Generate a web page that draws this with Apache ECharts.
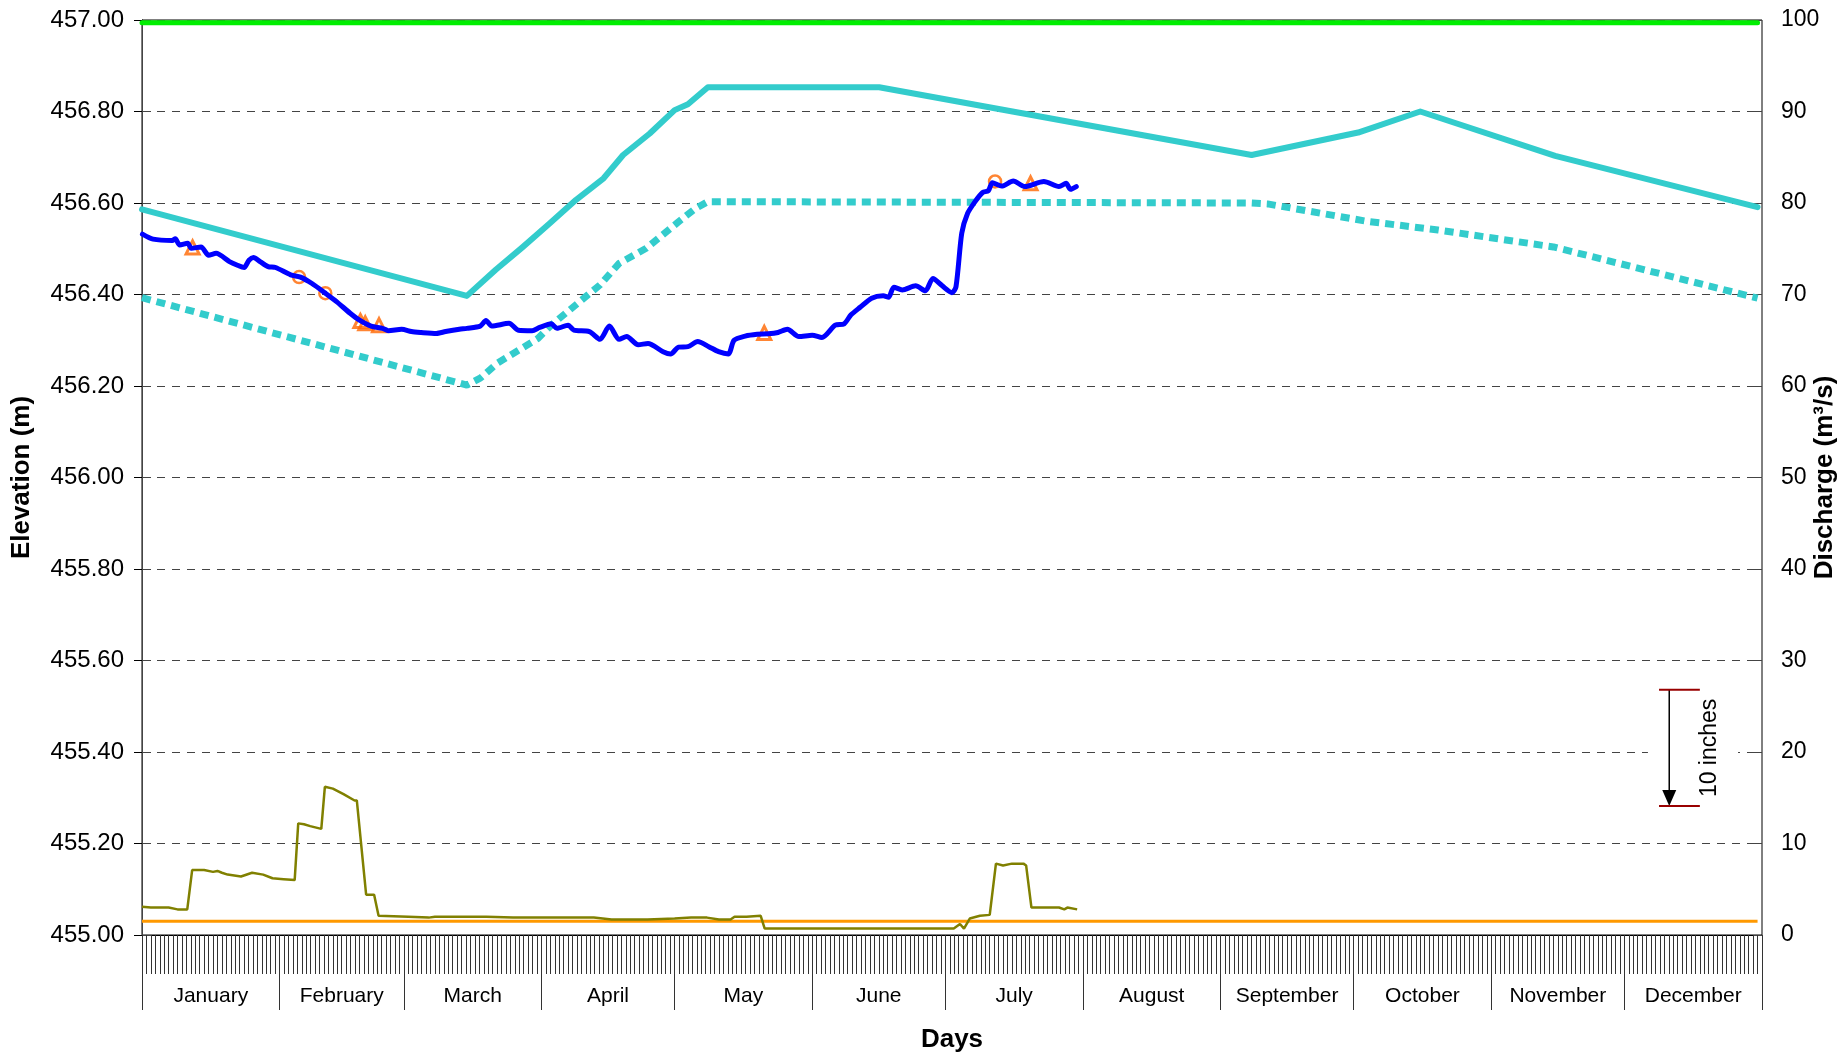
<!DOCTYPE html>
<html>
<head>
<meta charset="utf-8">
<script src="https://cdn.jsdelivr.net/npm/echarts@6/dist/echarts.min.js"></script>
<style>
html, body { margin: 0; padding: 0; background: #fff; }
#chart { width: 1844px; height: 1053px; }
</style>
</head>
<body>
<div id="chart"></div>
<script>
// months on the x axis (day of year, 0 = 1 January)
var monthNames = ['January', 'February', 'March', 'April', 'May', 'June', 'July',
    'August', 'September', 'October', 'November', 'December'];
var monthStarts = [0, 31, 59, 90, 120, 151, 181, 212, 243, 273, 304, 334, 365];

// observed reservoir elevation (m)
var elevDay = [0.1, 2.5, 6.8, 7.5, 8.5, 10.3, 11.1, 13.3, 15.0, 16.7, 19.7, 21.5, 23.0, 24.1, 25.1, 26.6,
    28.4, 30.1, 33.5, 35.7, 38.3, 41.3, 43.9, 46.9, 49.0, 51.6, 54.2, 55.5, 58.5, 60.7, 62.9, 66.3,
    68.4, 71.5, 73.2, 76.2, 77.5, 78.8, 82.7, 84.8, 87.9, 89.6, 92.2, 93.5, 96.0, 97.3, 100.8, 103.2,
    105.3, 107.5, 109.2, 111.8, 114.0, 117.4, 119.1, 120.9, 123.0, 125.2, 127.7, 129.9, 132.1, 133.4,
    135.9, 138.6, 141.1, 143.3, 145.4, 148.0, 151.0, 153.2, 156.2, 158.2, 159.7, 161.8, 164.4, 167.0,
    168.2, 169.4, 171.3, 174.3, 176.5, 178.2, 180.3, 182.5, 183.4, 184.7, 186.0, 187.7, 189.4, 190.7,
    191.6, 193.7, 196.3, 198.9, 203.2, 206.6, 208.2, 209.2, 210.5];
var elevVal = [456.532, 456.521, 456.518, 456.522, 456.508, 456.512, 456.501, 456.504, 456.486, 456.490,
    456.472, 456.464, 456.459, 456.475, 456.481, 456.472, 456.461, 456.459, 456.443, 456.438, 456.424,
    456.403, 456.384, 456.359, 456.344, 456.331, 456.326, 456.321, 456.324, 456.319, 456.317, 456.315,
    456.319, 456.324, 456.326, 456.331, 456.343, 456.331, 456.337, 456.322, 456.321, 456.328, 456.336,
    456.326, 456.333, 456.322, 456.319, 456.302, 456.331, 456.302, 456.308, 456.290, 456.293, 456.275,
    456.270, 456.285, 456.286, 456.297, 456.286, 456.275, 456.270, 456.300, 456.309, 456.313, 456.314,
    456.317, 456.324, 456.308, 456.311, 456.306, 456.333, 456.336, 456.355, 456.372, 456.392, 456.397,
    456.394, 456.416, 456.410, 456.419, 456.408, 456.435, 456.419, 456.404, 456.417, 456.534, 456.577,
    456.603, 456.623, 456.627, 456.644, 456.637, 456.648, 456.636, 456.647, 456.636, 456.643, 456.630,
    456.636];

// survey points on the elevation line
var circleDay = [35.4, 41.3, 192.2];
var circleVal = [456.438, 456.403, 456.647];
var triDay = [11.4, 49.2, 50.3, 53.4, 140.2, 200.2];
var triVal = [456.503, 456.342, 456.337, 456.333, 456.316, 456.643];

// rule curves (m)
var upperDay = [0, 73.2, 79.7, 85.7, 91.7, 97.8, 104, 108.4, 114.4, 120, 123, 127.5, 166.1, 250, 274, 288, 318.4, 364];
var upperVal = [456.586, 456.397, 456.454, 456.503, 456.554, 456.607, 456.654, 456.705, 456.752, 456.803,
    456.816, 456.853, 456.853, 456.705, 456.754, 456.800, 456.703, 456.591];
var lowerDay = [0, 73.2, 76.2, 80.1, 89.2, 92.2, 103.2, 107.5, 113.6, 120.9, 124.7, 127.5, 250, 253.6, 276, 292, 318, 364];
var lowerVal = [456.393, 456.202, 456.217, 456.250, 456.304, 456.333, 456.421, 456.468, 456.501, 456.559,
    456.588, 456.603, 456.600, 456.598, 456.560, 456.541, 456.504, 456.392];
var topLevel = 456.994;

// discharge (m3/s)
var flowDay = [0, 2, 6, 8, 10.2, 11.3, 14, 16, 17, 18, 19.3, 22.3, 24.8, 27.3, 29.4, 31.9, 34.4, 35.2, 36.5,
    37.9, 40.4, 41.2, 43, 45.4, 47.9, 48.4, 50.5, 52.3, 53.3, 60, 64.6, 66, 72, 77.6, 83.6, 90, 101.8,
    105.8, 113.9, 120, 123.7, 127.3, 130, 132.6, 133.5, 136.2, 139.4, 140.3, 182.9, 184.3, 185.2, 186.5,
    188.8, 191, 191.4, 192.4, 194, 196, 198.6, 199.2, 200.4, 206.6, 207.8, 208.5, 210.7];
var flowVal = [3.1, 3.0, 3.0, 2.8, 2.8, 7.1, 7.1, 6.9, 7.0, 6.8, 6.6, 6.4, 6.8, 6.6, 6.2, 6.1, 6.0, 12.2, 12.1,
    11.9, 11.6, 16.2, 16.0, 15.4, 14.7, 14.7, 4.4, 4.4, 2.1, 2.0, 1.9, 2.0, 2.0, 2.0, 1.9, 1.9, 1.9,
    1.7, 1.7, 1.8, 1.9, 1.9, 1.7, 1.7, 2.0, 2.0, 2.1, 0.7, 0.7, 1.2, 0.7, 1.8,
    2.1, 2.2, 2.4, 7.8, 7.6, 7.8, 7.8, 7.6, 3.0, 3.0, 2.8, 3.0, 2.8];
var minFlow = 1.5;

// "10 inches" bracket
var bracketDay = 344.1;
var bracketTop = 455.536;
var bracketBottom = 455.282;

function pairs(xs, ys) {
    return xs.map(function(x, i) { return [x, ys[i]]; });
}

var monthMids = [];
for (var i = 0; i < 12; i++) {
    monthMids.push((monthStarts[i] + monthStarts[i + 1]) / 2);
}

var font = 'Liberation Sans, Arial, sans-serif';
var chart = echarts.init(document.getElementById('chart'));

var option = {
    animation: false,
    backgroundColor: '#fff',
    textStyle: { fontFamily: font },
    grid: {
        left: 142, right: 82, top: 20, bottom: 118,
        outerBoundsMode: 'none', containLabel: false,
        show: true, borderColor: '#000', borderWidth: 1
    },
    xAxis: [{
        type: 'value', min: 0, max: 365, interval: 1,
        axisLine: { lineStyle: { color: '#000', width: 1 } },
        axisTick: { length: 39, lineStyle: { color: '#333', width: 1 } },
        axisLabel: { show: false },
        splitLine: { show: false }
    }, {
        type: 'value', min: 0, max: 365, position: 'bottom',
        axisLine: { show: false },
        axisTick: { customValues: monthStarts, length: 75, lineStyle: { color: '#333', width: 1 } },
        axisLabel: {
            customValues: monthMids, margin: 51,
            fontSize: 21, color: '#000', fontFamily: font,
            formatter: function(v) { return monthNames[monthMids.indexOf(v)] || ''; }
        },
        splitLine: { show: false },
        name: 'Days', nameLocation: 'middle', nameGap: 92, nameMoveOverlap: false,
        nameTextStyle: { fontSize: 26, fontWeight: 'bold', color: '#000', fontFamily: font }
    }],
    yAxis: [{
        type: 'value', min: 455, max: 457, interval: 0.2,
        axisLine: { show: true, lineStyle: { color: '#000' } },
        axisTick: { show: true, length: 8, lineStyle: { color: '#000' } },
        axisLabel: {
            fontSize: 24, color: '#000', margin: 18, fontFamily: font,
            formatter: function(v) { return v.toFixed(2); }
        },
        splitLine: { show: true, lineStyle: { color: '#444', width: 1, type: [8, 7] } },
        name: 'Elevation (m)', nameLocation: 'middle', nameGap: 107, nameMoveOverlap: false,
        nameTextStyle: { fontSize: 26, fontWeight: 'bold', color: '#000', fontFamily: font }
    }, {
        type: 'value', min: 0, max: 100, interval: 10, position: 'right',
        axisLine: { show: true, lineStyle: { color: '#444' } },
        axisTick: { show: true, length: 9, lineStyle: { color: '#444' } },
        axisLabel: { fontSize: 23, color: '#000', margin: 19, fontFamily: font },
        splitLine: { show: false },
        name: 'Discharge (m³/s)', nameLocation: 'middle', nameGap: 50, nameMoveOverlap: false,
        nameTextStyle: { fontSize: 26, fontWeight: 'bold', color: '#000', fontFamily: font }
    }, {
        // inner half of the right-hand ticks
        type: 'value', min: 0, max: 100, interval: 10, position: 'right',
        axisLine: { show: false },
        axisTick: { show: true, inside: true, length: 9, lineStyle: { color: '#444' } },
        axisLabel: { show: false },
        splitLine: { show: false }
    }],
    series: [{
        name: 'Minimum discharge', type: 'line', yAxisIndex: 1, showSymbol: false,
        data: [[0, minFlow], [364, minFlow]],
        lineStyle: { color: '#FF9900', width: 3 }
    }, {
        name: 'Discharge', type: 'line', yAxisIndex: 1, showSymbol: false,
        data: pairs(flowDay, flowVal),
        lineStyle: { color: '#808000', width: 2.5 }
    }, {
        name: 'Lower rule curve', type: 'line', showSymbol: false,
        data: pairs(lowerDay, lowerVal),
        lineStyle: { color: '#33CCCC', width: 7, type: [9, 6] }
    }, {
        name: 'Upper rule curve', type: 'line', showSymbol: false,
        data: pairs(upperDay, upperVal),
        lineStyle: { color: '#33CCCC', width: 6, cap: 'round', join: 'round' }
    }, {
        name: 'Top', type: 'line', showSymbol: false,
        data: [[0, topLevel], [364, topLevel]],
        lineStyle: { color: '#00EE00', width: 5, cap: 'round' }
    }, {
        name: 'Elevation', type: 'line', showSymbol: false, smooth: 0.25,
        data: pairs(elevDay, elevVal),
        lineStyle: { color: '#0000FF', width: 5, cap: 'round', join: 'round' }
    }, {
        name: 'Circle', type: 'scatter', symbol: 'circle', symbolSize: 12,
        data: pairs(circleDay, circleVal),
        itemStyle: { color: 'rgba(0,0,0,0)', borderColor: '#FF6600', borderWidth: 2.5 }
    }, {
        name: 'Triangle', type: 'scatter', symbol: 'triangle', symbolSize: 13,
        data: pairs(triDay, triVal),
        itemStyle: { color: 'rgba(0,0,0,0)', borderColor: '#FF6600', borderWidth: 3 }
    }, {
        name: 'Bracket', type: 'custom', silent: true,
        data: [[bracketDay, bracketTop, bracketBottom]],
        renderItem: function(params, api) {
            var d = api.value(0);
            var top = api.coord([d, api.value(1)]);
            var bot = api.coord([d, api.value(2)]);
            var capL = api.coord([d - 2.3, api.value(1)])[0];
            var capR = api.coord([d + 6.9, api.value(1)])[0];
            var boxL = api.coord([d - 4.8, api.value(1)])[0];
            var boxR = api.coord([d + 15.5, api.value(1)])[0];
            var textX = api.coord([d + 9, api.value(1)])[0];
            var x = top[0];
            return {
                type: 'group',
                children: [{
                    type: 'rect',
                    shape: { x: boxL, y: top[1] - 4, width: boxR - boxL, height: bot[1] - top[1] + 8 },
                    style: { fill: '#fff' }
                }, {
                    type: 'line',
                    shape: { x1: x, y1: top[1], x2: x, y2: bot[1] - 14 },
                    style: { stroke: '#000', lineWidth: 1.5 }
                }, {
                    type: 'polygon',
                    shape: { points: [[x - 7, bot[1] - 16], [x + 7, bot[1] - 16], [x, bot[1]]] },
                    style: { fill: '#000' }
                }, {
                    type: 'line',
                    shape: { x1: capL, y1: top[1], x2: capR, y2: top[1] },
                    style: { stroke: '#990000', lineWidth: 2 }
                }, {
                    type: 'line',
                    shape: { x1: capL, y1: bot[1], x2: capR, y2: bot[1] },
                    style: { stroke: '#990000', lineWidth: 2 }
                }, {
                    type: 'text',
                    x: textX, y: (top[1] + bot[1]) / 2,
                    rotation: Math.PI / 2,
                    style: {
                        text: '10 inches', fontSize: 23, fontFamily: font, fill: '#000',
                        align: 'center', verticalAlign: 'middle'
                    }
                }]
            };
        }
    }]
};

chart.setOption(option);
</script>
</body>
</html>
